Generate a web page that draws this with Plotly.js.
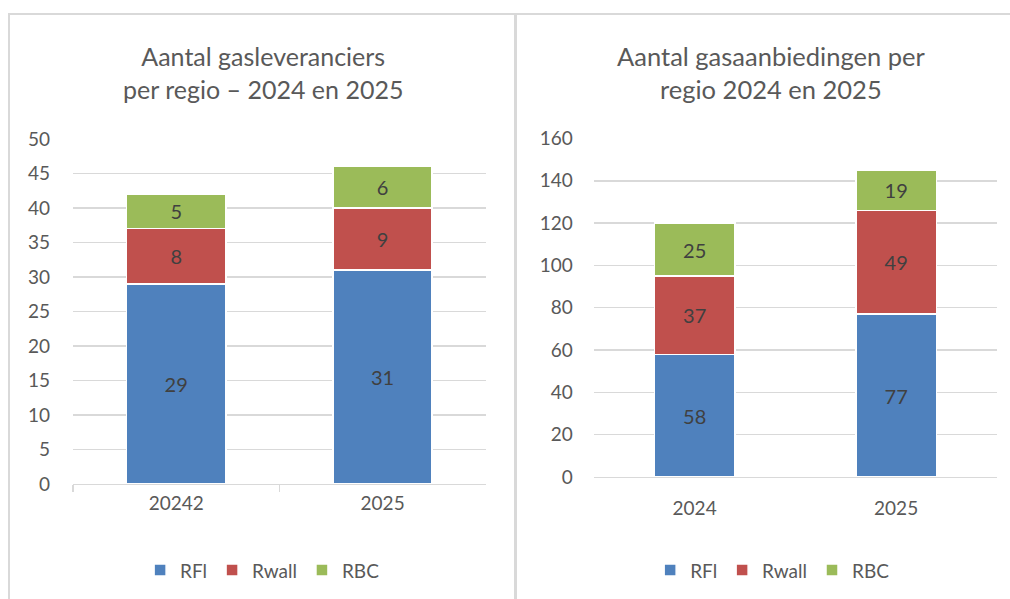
<!DOCTYPE html>
<html>
<head>
<meta charset="utf-8">
<script src="https://cdn.plot.ly/plotly-3.0.1.min.js"></script>
<style>html,body{margin:0;padding:0;background:#fff;}#chart{width:1010px;height:599px;}</style>
</head>
<body>
<div id="chart"></div>
<script>
// Left chart: number of gas suppliers
const leftCategories = ["20242", "2025"];
const leftRFl = [29, 31];
const leftRwall = [8, 9];
const leftRBC = [5, 6];
const leftTicks = [0, 5, 10, 15, 20, 25, 30, 35, 40, 45, 50];

// Right chart: number of gas offers
const rightCategories = ["2024", "2025"];
const rightRFl = [58, 77];
const rightRwall = [37, 49];
const rightRBC = [25, 19];
const rightTicks = [0, 20, 40, 60, 80, 100, 120, 140, 160];

const seriesNames = ["RFl", "Rwall", "RBC"];
const colors = ["#4F81BD", "#C0504D", "#9BBB59"];

const font = "Lato, 'Open Sans', sans-serif";
const txtColor = "#404040";
const axColor = "#595959";
const grid = "#d9d9d9";

function mk(x, y, i, xa, ya, leg, width) {
  return {
    type: "bar", x: x, y: y, name: seriesNames[i], xaxis: xa, yaxis: ya, legend: leg,
    width: width,
    marker: {color: colors[i], line: {color: "#ffffff", width: 1.5}},
    text: y.map(String), textposition: "inside", insidetextanchor: "middle",
    constraintext: "none",
    textfont: {family: font, size: 20, color: txtColor},
    hoverinfo: "x+y+name"
  };
}

const data = [
  mk(leftCategories, leftRFl, 0, "x", "y", "legend", 0.48),
  mk(leftCategories, leftRwall, 1, "x", "y", "legend", 0.48),
  mk(leftCategories, leftRBC, 2, "x", "y", "legend", 0.48),
  mk(rightCategories, rightRFl, 0, "x2", "y2", "legend2", 0.4),
  mk(rightCategories, rightRwall, 1, "x2", "y2", "legend2", 0.4),
  mk(rightCategories, rightRBC, 2, "x2", "y2", "legend2", 0.4)
];

const tickFont = {family: font, size: 19, color: axColor};
const legFont = {family: font, size: 19, color: axColor};

const layout = {
  width: 1010, height: 599,
  margin: {l: 0, r: 0, t: 0, b: 0},
  paper_bgcolor: "#ffffff", plot_bgcolor: "rgba(0,0,0,0)",
  barmode: "stack", bargap: 0.5,
  font: {family: font, color: axColor},
  xaxis: {
    domain: [0.0723, 0.481], anchor: "y", type: "category",
    showline: true, linecolor: grid, linewidth: 1.5,
    ticks: "outside", tickson: "boundaries", ticklen: 7, tickcolor: grid, tickwidth: 1.5,
    tickfont: tickFont, showgrid: false, fixedrange: true, ticklabelstandoff: 2
  },
  yaxis: {
    domain: [0.192, 0.768], anchor: "x", range: [0, 50],
    tickvals: leftTicks, ticktext: leftTicks.map(String),
    tickfont: tickFont, showgrid: true, gridcolor: grid, gridwidth: 1.5,
    zeroline: false, showline: false, ticks: "", ticklabelstandoff: 22, fixedrange: true
  },
  xaxis2: {
    domain: [0.588, 0.987], anchor: "y2", type: "category",
    showline: true, linecolor: grid, linewidth: 1.5,
    ticks: "", tickfont: tickFont, showgrid: false, fixedrange: true, ticklabelstandoff: 14
  },
  yaxis2: {
    domain: [0.2037, 0.7688], anchor: "x2", range: [0, 160],
    tickvals: rightTicks, ticktext: rightTicks.map(String),
    tickfont: tickFont, showgrid: true, gridcolor: grid, gridwidth: 1.5,
    zeroline: false, showline: false, ticks: "", ticklabelstandoff: 20, fixedrange: true
  },
  legend: {
    orientation: "h", x: 0.26, xanchor: "center", y: 0.048, yanchor: "middle",
    font: legFont, traceorder: "normal", itemwidth: 30
  },
  legend2: {
    orientation: "h", x: 0.765, xanchor: "center", y: 0.048, yanchor: "middle",
    font: legFont, traceorder: "normal", itemwidth: 30
  },
  annotations: [
    {xref: "paper", yref: "paper", x: 0.26, y: 1 - 72.5/599, xanchor: "center", yanchor: "middle",
     showarrow: false, align: "center",
     text: "Aantal gasleveranciers<br>per regio – 2024 en 2025",
     font: {family: font, size: 25, color: axColor}},
    {xref: "paper", yref: "paper", x: 0.763, y: 1 - 72.5/599, xanchor: "center", yanchor: "middle",
     showarrow: false, align: "center",
     text: "Aantal gasaanbiedingen per<br>regio 2024 en 2025",
     font: {family: font, size: 25.5, color: axColor}}
  ],
  shapes: [
    {type: "line", xref: "paper", yref: "paper", x0: 8/1010, x1: 1, y0: 1 - 14/599, y1: 1 - 14/599,
     line: {color: grid, width: 2}},
    {type: "line", xref: "paper", yref: "paper", x0: 9/1010, x1: 9/1010, y0: 0, y1: 1 - 14/599,
     line: {color: grid, width: 2}},
    {type: "line", xref: "paper", yref: "paper", x0: 515.5/1010, x1: 515.5/1010, y0: 0, y1: 1 - 14/599,
     line: {color: grid, width: 3}}
  ]
};

Plotly.newPlot("chart", data, layout, {displayModeBar: false, staticPlot: true});
</script>
</body>
</html>
